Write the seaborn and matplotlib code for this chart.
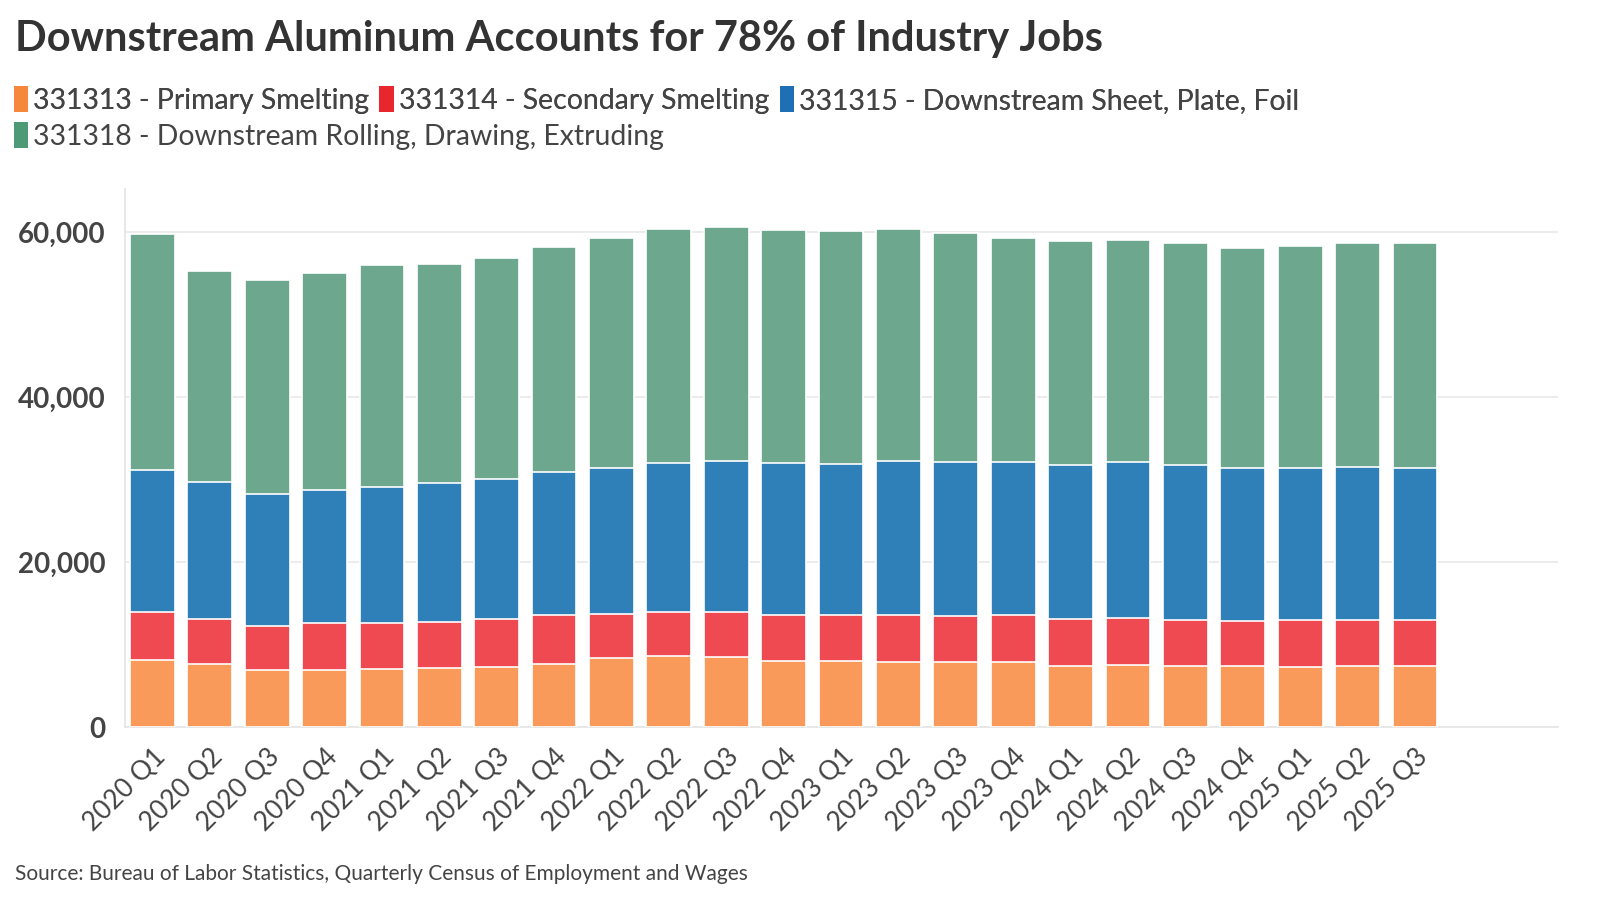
import matplotlib
matplotlib.use("Agg")
import matplotlib.pyplot as plt
from matplotlib.patches import Patch
import seaborn as sns
import pandas as pd

# data
quarters = ['2020 Q1', '2020 Q2', '2020 Q3', '2020 Q4',
            '2021 Q1', '2021 Q2', '2021 Q3', '2021 Q4',
            '2022 Q1', '2022 Q2', '2022 Q3', '2022 Q4',
            '2023 Q1', '2023 Q2', '2023 Q3', '2023 Q4',
            '2024 Q1', '2024 Q2', '2024 Q3', '2024 Q4',
            '2025 Q1', '2025 Q2', '2025 Q3']
primary = [8200, 7670, 6940, 6980, 7100, 7140, 7350, 7630, 8410, 8570, 8490, 8080,
           8000, 7920, 7840, 7880, 7390, 7510, 7430, 7390, 7350, 7430, 7390]
secondary = [5800, 5430, 5305, 5590, 5550, 5595, 5710, 5920, 5345, 5350, 5510, 5550,
             5550, 5670, 5670, 5710, 5710, 5710, 5550, 5510, 5630, 5590, 5590]
sheet = [17180, 16610, 16000, 16165, 16450, 16815, 16980, 17350, 17635, 18120, 18200, 18370,
         18370, 18655, 18650, 18570, 18700, 18860, 18730, 18530, 18410, 18530, 18410]
rolling = [28530, 25590, 25915, 26285, 26860, 26610, 26820, 27300, 27830, 28290, 28410, 28245,
           28200, 28165, 27720, 27150, 27060, 26980, 26940, 26570, 26940, 27140, 27220]

series_names = ['331313 - Primary Smelting', '331314 - Secondary Smelting',
                '331315 - Downstream Sheet, Plate, Foil',
                '331318 - Downstream Rolling, Drawing, Extruding']
bar_colors = ['#FA9A5A', '#EF4A52', '#2F80B8', '#6DA88E']
swatch_colors = ['#F5883B', '#E8262E', '#1F6FB4', '#4E9A76']

df = pd.DataFrame({'quarter': quarters, series_names[0]: primary, series_names[1]: secondary,
                   series_names[2]: sheet, series_names[3]: rolling})

sns.set_theme(style='white')
plt.rcParams['font.family'] = ['Lato', 'DejaVu Sans']

fig = plt.figure(figsize=(16, 9), dpi=100)
ax = fig.add_axes([0.078, 0.192, 0.896, 0.598])

# stacked bars, drawing cumulative totals from the top layer down
cum = df[series_names].cumsum(axis=1)
for name, col in reversed(list(zip(series_names, bar_colors))):
    sns.barplot(x=df['quarter'], y=cum[name], color=col, width=0.78,
                edgecolor='white', linewidth=1.2, saturation=1, ax=ax, zorder=3)

ax.set_xlim(-0.48, 24.5)
ax.set_ylim(0, 65200)
ax.set_yticks([0, 20000, 40000, 60000])
ax.set_yticklabels(['0', '20,000', '40,000', '60,000'])
ax.yaxis.grid(True, color='#ebebeb', linewidth=1.3, zorder=0)
ax.set_xlabel('')
ax.set_ylabel('')

for s in ['top', 'right']:
    ax.spines[s].set_visible(False)
for s in ['left', 'bottom']:
    ax.spines[s].set_color('#e6e6e6')
    ax.spines[s].set_linewidth(1.3)

ax.tick_params(axis='y', length=8, color='#e6e6e6', width=1.3, pad=6,
               labelsize=20, labelcolor='#444444')
ax.tick_params(axis='x', length=10, color='#e6e6e6', width=1.3, pad=2,
               labelsize=19, labelcolor='#444444')
for lab in ax.get_yticklabels():
    lab.set_fontweight('bold')
for lab in ax.get_xticklabels():
    lab.set_rotation(45)
    lab.set_ha('right')
    lab.set_rotation_mode('anchor')

fig.text(0.0096, 0.957, 'Downstream Aluminum Accounts for 78% of Industry Jobs',
         fontsize=30, fontweight='bold', color='#333333', va='center')

handles = [Patch(facecolor=c, edgecolor='none') for c in swatch_colors]
leg1 = fig.legend(handles[:3], series_names[:3], loc='center left', bbox_to_anchor=(0.0085, 0.889),
                  ncol=3, frameon=False, fontsize=20.4, handlelength=0.5, handleheight=1.0,
                  handletextpad=0.2, columnspacing=0.35, labelcolor='#444444',
                  borderpad=0, borderaxespad=0)
fig.add_artist(leg1)
fig.legend(handles[3:], series_names[3:], loc='center left', bbox_to_anchor=(0.0085, 0.849),
           frameon=False, fontsize=20.4, handlelength=0.5, handleheight=1.0,
           handletextpad=0.2, labelcolor='#444444', borderpad=0, borderaxespad=0)

fig.text(0.0096, 0.029, 'Source: Bureau of Labor Statistics, Quarterly Census of Employment and Wages',
         fontsize=15, color='#444444', va='center')

fig.savefig('out.png', dpi=100)
